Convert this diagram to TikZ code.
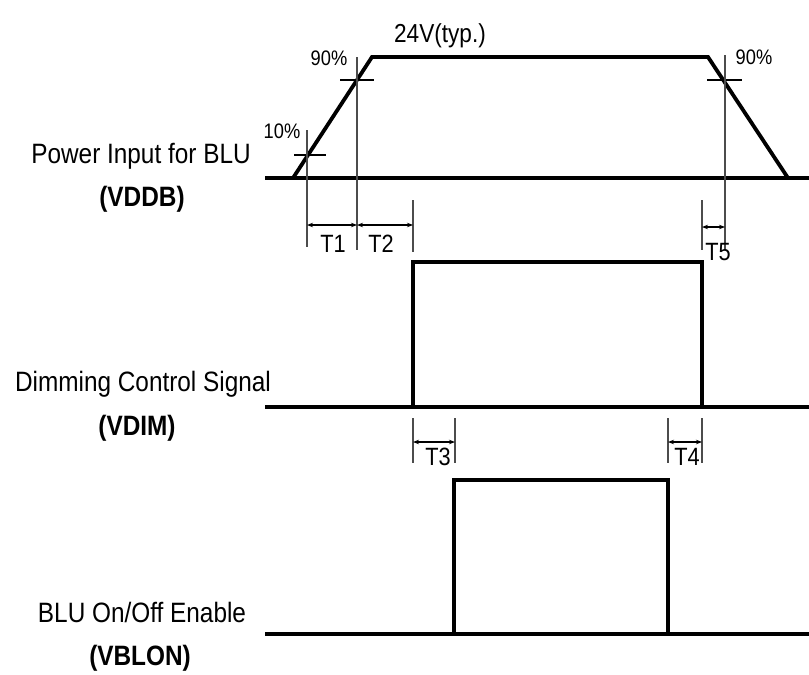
\documentclass[tikz,border=0pt]{standalone}
\usepackage{fontspec}
\setmainfont[FakeStretch=0.87]{Liberation Sans}
\usetikzlibrary{arrows.meta}
\begin{document}
\begin{tikzpicture}[x=1pt,y=-1pt,
  sig/.style={line width=3.8pt, line join=miter},
  base/.style={line width=3.8pt},
  ext/.style={line width=1.3pt, black!70},
  crs/.style={line width=1.4pt},
  dimen/.style={line width=1.1pt, {Stealth[length=6pt,width=4.5pt]}-{Stealth[length=6pt,width=4.5pt]}},
  lbl/.style={font=\fontsize{28}{30}\selectfont, inner sep=0pt},
  blbl/.style={font=\fontsize{28}{30}\selectfont\bfseries, inner sep=0pt},
  sm/.style={font=\fontsize{21}{22}\selectfont, inner sep=0pt},
  tl/.style={font=\fontsize{25}{26}\selectfont, inner sep=0pt}]
\useasboundingbox (0,0) rectangle (809,675);
\fill[white] (0,0) rectangle (809,675);

% ---------- VDDB ----------
\coordinate (b0) at (265,178);
\coordinate (b1) at (809,178);
\coordinate (r0) at (293,178);
\coordinate (r1) at (372,57);
\coordinate (r2) at (708,57);
\coordinate (r3) at (788,178);
\draw[base] (b0) -- (b1);
\draw[sig] (r0) -- (r1) -- (r2) -- (r3);

% 10% / 90% marks
\coordinate (c10a) at (294,155); \coordinate (c10b) at (326,155);
\coordinate (c90a) at (340,80);  \coordinate (c90b) at (374,80);
\coordinate (d90a) at (707,80);  \coordinate (d90b) at (742,80);
\draw[crs] (c10a) -- (c10b);
\draw[crs] (c90a) -- (c90b);
\draw[crs] (d90a) -- (d90b);

\coordinate (e1t) at (307,130); \coordinate (e1b) at (307,247);
\coordinate (e2t) at (357,57);  \coordinate (e2b) at (357,250);
\coordinate (e3t) at (413,200); \coordinate (e3b) at (413,252);
\coordinate (e4t) at (725,55);  \coordinate (e4b) at (725,250);
\coordinate (e5t) at (702,200); \coordinate (e5b) at (702,250);
\draw[ext] (e1t) -- (e1b);
\draw[ext] (e2t) -- (e2b);
\draw[ext] (e3t) -- (e3b);
\draw[ext] (e4t) -- (e4b);
\draw[ext] (e5t) -- (e5b);

\coordinate (t1a) at (307,225); \coordinate (t1b) at (357,225);
\coordinate (t2b) at (413,225);
\coordinate (t5a) at (702,227); \coordinate (t5b) at (725,227);
\draw[dimen] (t1a) -- (t1b);
\draw[dimen] (t1b) -- (t2b);
\draw[dimen] (t5a) -- (t5b);

\node[sm] (p10) at (282,131) {10\%};
\node[sm] (p90l) at (329,58) {90\%};
\node[sm] (p90r) at (754,57) {90\%};
\node[font=\fontsize{26}{28}\selectfont, inner sep=0pt] (v24) at (440,36) {24V(typ.)};
\node[tl] (T1) at (333,244) {T1};
\node[tl] (T2) at (381,244) {T2};
\node[tl] (T5) at (718,252) {T5};

\node[lbl] (L1) at (141,156) {Power Input for BLU};
\node[blbl] (L1b) at (142,199) {(VDDB)};

% ---------- VDIM ----------
\coordinate (m0) at (265,407);
\coordinate (m1) at (809,407);
\coordinate (mp0) at (413,407);
\coordinate (mp1) at (413,262);
\coordinate (mp2) at (702,262);
\coordinate (mp3) at (702,407);
\draw[base] (m0) -- (m1);
\draw[sig] (mp0) -- (mp1) -- (mp2) -- (mp3);

\coordinate (f1t) at (413,418); \coordinate (f1b) at (413,463);
\coordinate (f2t) at (455,418); \coordinate (f2b) at (455,463);
\coordinate (f3t) at (668,418); \coordinate (f3b) at (668,463);
\coordinate (f4t) at (702,418); \coordinate (f4b) at (702,463);
\draw[ext] (f1t) -- (f1b);
\draw[ext] (f2t) -- (f2b);
\draw[ext] (f3t) -- (f3b);
\draw[ext] (f4t) -- (f4b);
\coordinate (t3a) at (413,442); \coordinate (t3b) at (455,442);
\coordinate (t4a) at (668,442); \coordinate (t4b) at (702,442);
\draw[dimen] (t3a) -- (t3b);
\draw[dimen] (t4a) -- (t4b);
\node[tl] (T3) at (438,457) {T3};
\node[tl] (T4) at (687,457) {T4};

\node[lbl] (L2) at (143,384) {Dimming Control Signal};
\node[blbl] (L2b) at (137,428) {(VDIM)};

% ---------- VBLON ----------
\coordinate (n0) at (265,634);
\coordinate (n1) at (809,634);
\coordinate (np0) at (454,634);
\coordinate (np1) at (454,480);
\coordinate (np2) at (668,480);
\coordinate (np3) at (668,634);
\draw[base] (n0) -- (n1);
\draw[sig] (np0) -- (np1) -- (np2) -- (np3);

\node[lbl] (L3) at (142,612) {BLU On/Off Enable};
\node[blbl] (L3b) at (140,658) {(VBLON)};
\end{tikzpicture}
\end{document}
